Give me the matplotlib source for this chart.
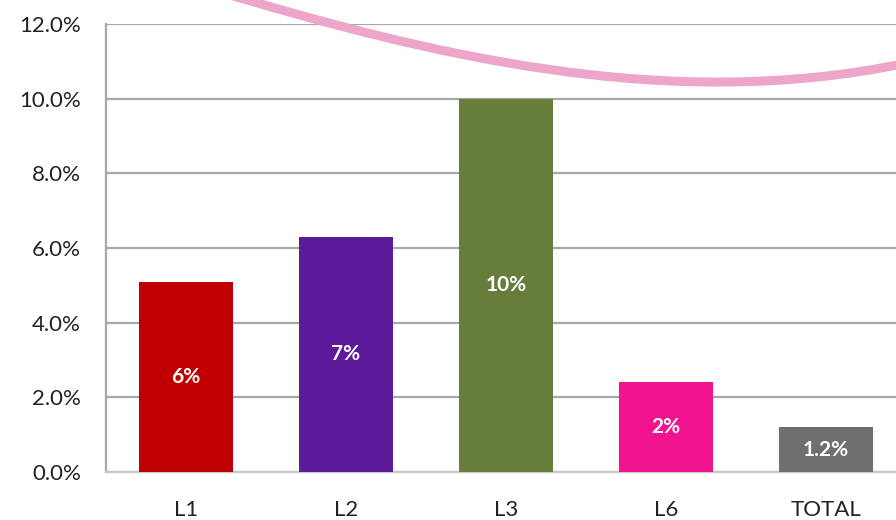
import matplotlib.pyplot as plt
from matplotlib.path import Path
from matplotlib.patches import PathPatch

# data
categories = ['L1', 'L2', 'L3', 'L6', 'TOTAL']
values = [5.1, 6.3, 10.0, 2.4, 1.2]
bar_labels = ['6%', '7%', '10%', '2%', '1.2%']
bar_colors = ['#C00000', '#5C1B98', '#677D3C', '#F2138E', '#6F6F6F']
y_ticks = [0, 2, 4, 6, 8, 10, 12]

# decorative pink arc across the top (bezier control points, data units)
arc_x = [0.18, 1.5, 3.0, 4.5]
arc_y = [12.9, 11.2, 9.6, 10.95]

plt.rcParams['font.family'] = ['Lato', 'DejaVu Sans']

fig = plt.figure(figsize=(8.96, 5.2), dpi=100)
ax = fig.add_axes([106 / 896, 48 / 520, 800 / 896, 448 / 520])

x = range(len(categories))
bars = ax.bar(x, values, width=0.59, color=bar_colors, zorder=3)
ax.bar_label(bars, labels=bar_labels, label_type='center', color='white',
             fontsize=15, fontweight='bold')

ax.set_xlim(-0.5, 4.5)
ax.set_ylim(0, 12)
ax.set_yticks(y_ticks)
ax.set_yticklabels(['%.1f%%' % v for v in y_ticks], fontsize=16, color='#222222')
ax.set_xticks(list(x))
ax.set_xticklabels(categories, fontsize=16, color='#222222')
ax.tick_params(axis='x', length=0, pad=20)
ax.tick_params(axis='y', length=0, pad=18)

ax.grid(axis='y', color='#A8A8A8', linewidth=1.6, zorder=0)
for side in ['top', 'right']:
    ax.spines[side].set_visible(False)
ax.spines['left'].set_color('#A8A8A8')
ax.spines['left'].set_linewidth(1.6)
ax.spines['bottom'].set_color('#C8C8C8')
ax.spines['bottom'].set_linewidth(1.6)

arc = Path(list(zip(arc_x, arc_y)),
           [Path.MOVETO, Path.CURVE4, Path.CURVE4, Path.CURVE4])
ax.add_patch(PathPatch(arc, facecolor='none', edgecolor='#EDA5CA',
                       linewidth=6.5, clip_on=False, zorder=4))

fig.savefig('out.png', dpi=100)
